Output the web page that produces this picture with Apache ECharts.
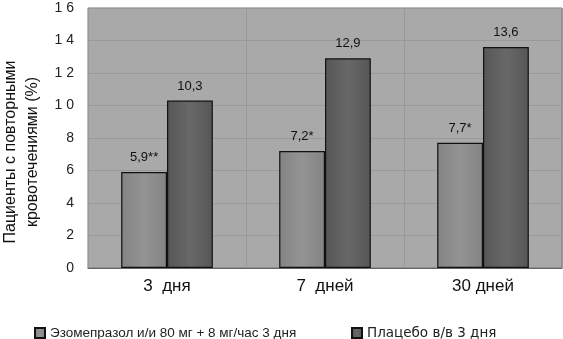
<!DOCTYPE html>
<html>
<head>
<meta charset="utf-8">
<script src="https://cdn.jsdelivr.net/npm/echarts@6/dist/echarts.min.js"></script>
<style>
  html, body { margin: 0; padding: 0; background: #fff; }
  #chart { width: 563px; height: 339px; }
</style>
</head>
<body>
<div id="chart"></div>
<script>
var categories = ['3  дня', '7  дней', '30 дней'];
var esoValues = [5.9, 7.2, 7.7];
var esoLabels = ['5,9**', '7,2*', '7,7*'];
var placeboValues = [10.3, 12.9, 13.6];
var placeboLabels = ['10,3', '12,9', '13,6'];
var seriesNames = ['Эзомепразол и/и 80 мг + 8 мг/час 3 дня', 'Плацебо в/в 3 дня'];

var chart = echarts.init(document.getElementById('chart'));

function grad(a, b) {
    return new echarts.graphic.LinearGradient(0, 0, 1, 0, [
        { offset: 0, color: a },
        { offset: 0.5, color: b },
        { offset: 1, color: a }
    ]);
}

chart.setOption({
    animation: false,
    textStyle: { fontFamily: 'Liberation Sans, Arial, sans-serif' },
    grid: {
        left: 88, right: 1, top: 8, bottom: 71,
        outerBoundsMode: 'none',
        show: true,
        backgroundColor: '#a9a9a9',
        borderColor: '#777',
        borderWidth: 1
    },
    legend: [
        {
            data: [seriesNames[0]],
            left: 29, top: 321,
            icon: 'rect', itemWidth: 10, itemHeight: 10, itemGap: 8,
            textStyle: { fontSize: 13.5, color: '#222' }
        },
        {
            data: [seriesNames[1]],
            left: 346, top: 321,
            icon: 'rect', itemWidth: 10, itemHeight: 10,
            textStyle: { fontSize: 13.5, color: '#222', fontFamily: 'DejaVu Sans' }
        }
    ],
    xAxis: {
        type: 'category',
        data: categories,
        axisLine: { lineStyle: { color: '#666' } },
        axisTick: { show: false },
        axisLabel: { fontSize: 17, color: '#111', margin: 10 },
        splitLine: { show: true, lineStyle: { color: '#999', width: 1 } }
    },
    yAxis: {
        type: 'value',
        min: 0, max: 16, interval: 2,
        name: 'Пациенты с повторными\nкровотечениями (%)',
        nameLocation: 'middle',
        nameRotate: 90,
        nameGap: 42,
        nameTextStyle: { fontSize: 16, color: '#111', lineHeight: 22, padding: [0, 28, 0, 0] },
        axisLine: { show: false },
        axisTick: { show: false },
        axisLabel: {
            fontSize: 14, color: '#222', margin: 14,
            formatter: function (v) { return String(v).split('').join(' '); }
        },
        splitLine: { lineStyle: { color: '#999', width: 1 } }
    },
    series: [
        {
            name: seriesNames[0],
            type: 'bar',
            data: esoValues,
            barGap: '0%',
            barCategoryGap: '42%',
            itemStyle: { color: grad('#848484', '#939393'), borderColor: '#111', borderWidth: 1.2 },
            label: {
                show: true, position: 'top', distance: 8,
                fontSize: 13, color: '#111',
                formatter: function (p) { return esoLabels[p.dataIndex]; }
            }
        },
        {
            name: seriesNames[1],
            type: 'bar',
            data: placeboValues,
            itemStyle: { color: grad('#565656', '#686868'), borderColor: '#111', borderWidth: 1.2 },
            label: {
                show: true, position: 'top', distance: 8,
                fontSize: 13, color: '#111',
                formatter: function (p) { return placeboLabels[p.dataIndex]; }
            }
        }
    ]
});
</script>
</body>
</html>
